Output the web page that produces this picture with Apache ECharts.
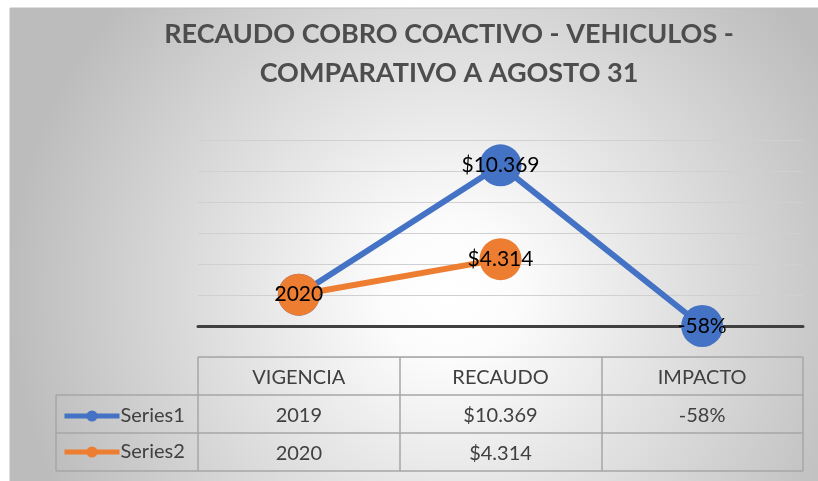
<!DOCTYPE html>
<html>
<head>
<meta charset="utf-8">
<script src="https://cdn.jsdelivr.net/npm/echarts@6/dist/echarts.min.js"></script>
<style>
  html, body { margin: 0; padding: 0; background: #fff; }
  #main { width: 818px; height: 481px; }
</style>
</head>
<body>
<div id="main"></div>
<script>
// datos del grafico
var categories = ['VIGENCIA', 'RECAUDO', 'IMPACTO'];
var seriesNames = ['Series1', 'Series2'];
var series1 = [2019, 10369, -0.58];
var series2 = [2020, 4314, null];
var yTicks = { min: -2000, max: 12000, interval: 2000 };

function fmtValue(v, i) {
  if (v === null || v === undefined) return '';
  if (i === 0) return String(v);
  if (i === 1) return '$' + String(v).replace(/\B(?=(\d{3})+(?!\d))/g, '.');
  return Math.round(v * 100) + '%';
}

var myChart = echarts.init(document.getElementById('main'));

// tabla de datos (bordes)
var tblColor = '#a6a6a6';
var tblX = [198, 400, 602, 803];
var tblY = [357, 395, 433, 471];
var legX = 56;
var tableLines = [];
tableLines.push({ x1: tblX[0], y1: tblY[0], x2: tblX[3], y2: tblY[0] });
for (var r = 1; r < tblY.length; r++) {
  tableLines.push({ x1: legX, y1: tblY[r], x2: tblX[3], y2: tblY[r] });
}
for (var c = 0; c < tblX.length; c++) {
  tableLines.push({ x1: tblX[c], y1: tblY[0], x2: tblX[c], y2: tblY[3] });
}
tableLines.push({ x1: legX, y1: tblY[1], x2: legX, y2: tblY[3] });

var graphics = [{
  type: 'rect',
  z: -10,
  shape: { x: 10, y: 8, width: 830, height: 490 },
  style: {
    fill: new echarts.graphic.RadialGradient(0.53, 0.58, 0.9, [
      { offset: 0, color: '#ffffff' },
      { offset: 0.15, color: '#fcfcfc' },
      { offset: 1, color: '#bcbcbc' }
    ]),
    stroke: '#bdbdbd',
    lineWidth: 1
  }
}];
tableLines.forEach(function (l) {
  graphics.push({
    type: 'line',
    z: 5,
    shape: l,
    style: { stroke: tblColor, lineWidth: 1.5 }
  });
});

var labelStyle = {
  show: true,
  position: 'inside',
  fontFamily: 'Lato',
  fontSize: 21,
  color: '#000',
  formatter: function (p) { return fmtValue(p.value, p.dataIndex); }
};

var option = {
  textStyle: { fontFamily: 'Lato' },
  title: {
    text: 'RECAUDO COBRO COACTIVO - VEHICULOS -\nCOMPARATIVO A AGOSTO 31',
    left: 444,
    textAlign: 'center',
    top: 10,
    textStyle: {
      fontFamily: 'Lato',
      fontSize: 27,
      fontWeight: 'bold',
      color: '#4d4d4d',
      lineHeight: 39
    }
  },
  legend: {
    orient: 'vertical',
    left: 57,
    top: 401,
    itemWidth: 55,
    itemHeight: 14,
    itemGap: 16,
    data: seriesNames,
    lineStyle: { width: 5 },
    textStyle: { fontSize: 20, color: '#404040', lineHeight: 20, padding: [0, 0, 0, -4] }
  },
  grid: { left: 198, right: 15, top: 140, bottom: 124 },
  xAxis: [{
    type: 'category',
    data: categories,
    z: 1,
    axisLine: { onZero: true, lineStyle: { color: '#404040', width: 3 } },
    axisTick: { show: false },
    axisLabel: { show: false }
  }, {
    type: 'category',
    data: categories,
    position: 'bottom',
    axisLine: { show: false, onZero: false },
    axisTick: { show: false },
    axisLabel: {
      margin: 2,
      fontSize: 20,
      lineHeight: 38,
      color: '#404040',
      formatter: function (v, i) {
        return [v, fmtValue(series1[i], i), fmtValue(series2[i], i)].join('\n');
      }
    }
  }],
  yAxis: {
    type: 'value',
    min: yTicks.min,
    max: yTicks.max,
    interval: yTicks.interval,
    axisLine: { show: false },
    axisTick: { show: false },
    axisLabel: { show: false },
    splitLine: { lineStyle: { color: '#d0d0d0', width: 1.2 } }
  },
  graphic: graphics,
  series: [{
    name: seriesNames[0],
    type: 'line',
    data: series1,
    symbol: 'circle',
    symbolSize: 42,
    itemStyle: { color: '#4472c4' },
    lineStyle: { color: '#4472c4', width: 6 },
    label: labelStyle,
    z: 3
  }, {
    name: seriesNames[1],
    type: 'line',
    data: series2,
    symbol: 'circle',
    symbolSize: 42,
    itemStyle: { color: '#ed7d31' },
    lineStyle: { color: '#ed7d31', width: 6 },
    label: labelStyle,
    z: 4
  }]
};

myChart.setOption(option);
</script>
</body>
</html>
